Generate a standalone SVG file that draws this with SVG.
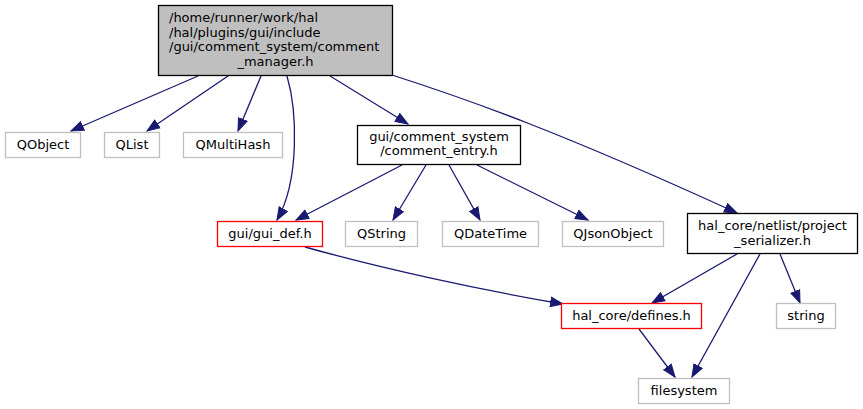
<svg xmlns="http://www.w3.org/2000/svg" width="863" height="409" viewBox="0 0 863 409">
<defs>
<style>
text{font-family:"DejaVu Sans","Liberation Sans",sans-serif;font-size:13px;fill:#000;text-anchor:middle}
.g{fill:#fff;stroke:#bfbfbf;stroke-width:1.3}
.r{fill:#fff;stroke:#ff0000;stroke-width:1.3}
.b{fill:#fff;stroke:#000;stroke-width:1.3}
.m{fill:#bfbfbf;stroke:#000;stroke-width:1.3}
.e{fill:none;stroke:#191970;stroke-width:1.3;marker-end:url(#ah)}
</style>
<marker id="ah" markerUnits="userSpaceOnUse" markerWidth="15" markerHeight="12" refX="13" refY="5" orient="auto" viewBox="0 0 15 10">
<path d="M0.5,0.3 L13,5 L0.5,9.7 z" fill="#191970" stroke="#191970" stroke-width="1"/>
</marker>
</defs>
<rect width="863" height="409" fill="#fff"/>
<g id="connectors">
<path class="e" d="M198,76 L71,131"/>
<path class="e" d="M228,76 L147,131"/>
<path class="e" d="M261,76 L238,131"/>
<path class="e" d="M287,76 C297,110 300,180 277,220"/>
<path class="e" d="M330,76 L408,124"/>
<path class="e" d="M392,75 C470,100 560,132 737,213"/>
<path class="e" d="M402,165 L296,220"/>
<path class="e" d="M426,165 L393,220"/>
<path class="e" d="M449,165 L480,220"/>
<path class="e" d="M477,165 L588,220"/>
<path class="e" d="M305,247 C380,268 480,290 563,304"/>
<path class="e" d="M737,254 L652,303"/>
<path class="e" d="M760,254 L692,377"/>
<path class="e" d="M780,254 L800,303"/>
<path class="e" d="M639,329 L675,377"/>
</g>
<g id="node_main">
<rect class="m" x="158.5" y="5.5" width="234" height="70"/>
<text x="169" y="22" style="text-anchor:start">/home/runner/work/hal</text>
<text x="169" y="36.5" style="text-anchor:start">/hal/plugins/gui/include</text>
<text x="169" y="51" style="text-anchor:start">/gui/comment_system/comment</text>
<text x="275.5" y="65.5">_manager.h</text>
</g>
<g id="node_qobject">
<rect class="g" x="5.5" y="132.5" width="75" height="25"/>
<text x="43" y="148.5">QObject</text>
</g>
<g id="node_qlist">
<rect class="g" x="104.5" y="132.5" width="55" height="25"/>
<text x="132" y="148.5">QList</text>
</g>
<g id="node_qmultihash">
<rect class="g" x="183.5" y="132.5" width="99" height="25"/>
<text x="233" y="148.5">QMultiHash</text>
</g>
<g id="node_comment_entry">
<rect class="b" x="357.5" y="125.5" width="163" height="39"/>
<text x="439" y="140.5">gui/comment_system</text>
<text x="439" y="155">/comment_entry.h</text>
</g>
<g id="node_gui_def">
<rect class="r" x="217.5" y="221.5" width="105" height="25"/>
<text x="270" y="237.5">gui/gui_def.h</text>
</g>
<g id="node_qstring">
<rect class="g" x="345.5" y="221.5" width="72" height="25"/>
<text x="381.5" y="237.5">QString</text>
</g>
<g id="node_qdatetime">
<rect class="g" x="442.5" y="221.5" width="96" height="25"/>
<text x="490.5" y="237.5">QDateTime</text>
</g>
<g id="node_qjsonobject">
<rect class="g" x="562.5" y="221.5" width="101" height="25"/>
<text x="613" y="237.5">QJsonObject</text>
</g>
<g id="node_project_serializer">
<rect class="b" x="687.5" y="213.5" width="170" height="40"/>
<text x="772.5" y="229.5">hal_core/netlist/project</text>
<text x="772.5" y="244.5">_serializer.h</text>
</g>
<g id="node_defines">
<rect class="r" x="561.5" y="303.5" width="140" height="25"/>
<text x="631.5" y="319.5">hal_core/defines.h</text>
</g>
<g id="node_string">
<rect class="g" x="776.5" y="303.5" width="59" height="25"/>
<text x="806" y="319.5">string</text>
</g>
<g id="node_filesystem">
<rect class="g" x="638.5" y="378.5" width="91" height="25"/>
<text x="684" y="394.5">filesystem</text>
</g>
</svg>
